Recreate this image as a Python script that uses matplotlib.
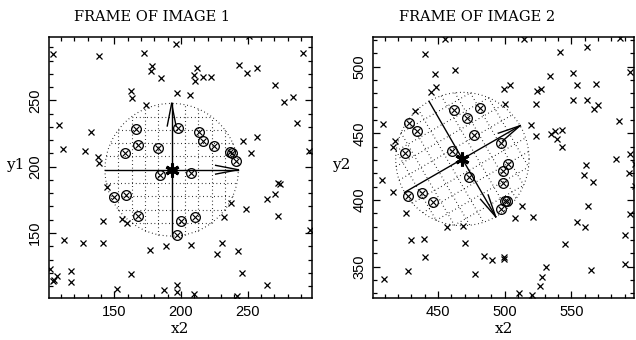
import numpy as np
import matplotlib
matplotlib.use("Agg")
import matplotlib.pyplot as plt

# frame 1: field stars (x) and matched stars (circled)
f1_x = [103.75, 138.75, 172.25, 196.5, 250.75, 291.25, 178.25, 177.75, 185.25, 212, 210, 210.75,
        216.25, 222.75, 243.75, 249.5, 257.25, 270.75, 277.25, 283.75, 162.75, 163.5, 196.75, 206.5,
        173.75, 108.75, 132.75, 287, 111.25, 128.25, 137.5, 138.25, 246.5, 257.25, 252.25, 295.75,
        144.5, 155.75, 159.75, 141.25, 237.25, 232, 248.75, 272.5, 274, 270.25, 264.25, 272.5,
        296.5, 112.25, 126.25, 141.5, 177, 188.75, 207.25, 230.75, 227, 242.75, 101.75, 107.25,
        104.5, 103.75, 117.25, 117.25, 162.25, 245.75, 264.5, 152, 187, 197, 197, 209.75, 242]
f1_y = [285.2, 283.4, 285.9, 292.5, 298.5, 285.9, 275.9, 272.4, 266.9, 274.4, 269.4, 264.9,
        267.4, 267.9, 276.4, 270.9, 274.6, 261.8, 248.8, 252.6, 257.3, 251.8, 255.8, 254.3,
        246.8, 231.7, 226.2, 232.7, 213.1, 211.9, 207.6, 202.6, 219.2, 222.2, 210.1, 211.6,
        184.8, 160.7, 157.5, 159.2, 173.0, 162.2, 167.8, 187.6, 187.3, 179.3, 175.8, 162.5,
        151.9, 144.9, 142.4, 142.4, 137.4, 139.9, 140.9, 142.4, 134.1, 136.6, 123.1, 117.3,
        114.8, 114.1, 121.1, 112.8, 119.1, 120.1, 111.0, 108.0, 106.8, 111.0, 105.5, 104.0, 102.3]
f1_match_x = [166.5, 197.5, 213.75, 216.25, 224.75, 237, 238.5, 241.25, 168, 182.75, 158.25,
              184.5, 207.75, 150, 158.75, 167.75, 200.25, 210.25, 197]
f1_match_y = [228.7, 229.2, 226.2, 219.7, 215.4, 211.1, 210.3, 204.6, 216.2, 214.2, 210.4,
              193.9, 195.6, 176.8, 178.8, 162.5, 159.2, 162.2, 148.7]

# frame 2
f2_x = [455.5, 514.5, 586.25, 440.5, 541.25, 561.5, 447.5, 462.5, 533.75, 551, 593.75, 445,
        448.75, 499.5, 504, 524.5, 527.5, 554.5, 568.75, 500, 523.75, 551.5, 561.5, 567, 570,
        432.5, 408.5, 520, 523.5, 534.5, 538, 543, 539.25, 543, 586, 417.5, 416.5, 583.25,
        593.75, 597.5, 561.25, 408, 416.5, 426.25, 456.5, 468.5, 513, 508, 521, 429.5, 439.25,
        470, 440, 484.5, 490.75, 499.25, 499.5, 427.5, 477.5, 409.5, 531.25, 528, 526.5, 510.5,
        520.5, 545, 554.5, 560.5, 562.5, 559.5, 566.25, 593.5, 597.5, 593.75, 590, 590, 565]
f2_y = [521, 521, 521.5, 509.5, 511, 514.5, 494.5, 497.25, 493, 495.5, 496, 481,
        484.5, 483.5, 486.5, 481.5, 483, 486.5, 486.75, 472, 472, 475.25, 474.75, 468.5, 471,
        466.5, 456.75, 456.5, 447.75, 449.5, 452, 452.5, 445.5, 440, 459, 444.5, 439.5, 430.75,
        434.5, 427, 426.5, 415, 405.75, 390.5, 379.75, 380.25, 395.25, 386.25, 387.5, 369.75, 370.75,
        367.5, 357.5, 358.25, 355, 357.5, 355.5, 346.75, 344.5, 340.5, 349.5, 342.25, 335.25, 330.5,
        328.75, 366.75, 383.25, 379.5, 395.25, 418.75, 413.25, 420, 410.75, 389.5, 373.75, 352.25, 347.5]
f2_match_x = [428, 434.5, 462, 471.5, 481.5, 477, 497.5, 460.5, 425, 502.5, 498.75, 498.75,
              473, 427.5, 438.25, 446, 500, 502, 497.5]
f2_match_y = [458, 451.5, 467.25, 461.75, 469.25, 448.5, 443, 436.75, 435.5, 427.25, 421.75, 412.5,
              417, 403.25, 405.25, 398.25, 399.5, 399.5, 393]

# reference frame: centre, radius, direction of the two arrows (deg)
f1_centre = (193.0, 197.7)
f2_centre = (468.25, 430.75)
radius = 50.0
f1_dirs = (0.0, 90.0)
f2_dirs = (30.0, -60.0)

titles = ["FRAME OF IMAGE 1", "FRAME OF IMAGE 2"]
xlims = [(101, 298), (401.5, 597)]
ylims = [(101, 298), (326.5, 522.5)]
xmajor = [[150, 200, 250], [450, 500, 550]]
ymajor = [[150, 200, 250], [350, 400, 450, 500]]
ylabels = ["y1", "y2"]

DOT = (0, (0.7, 2.6))


def unit(a):
    a = np.radians(a)
    return np.array([np.cos(a), np.sin(a)])


def draw_frame(ax, centre, dirs):
    c = np.array(centre)
    u, v = unit(dirs[0]), unit(dirs[1])
    t = np.linspace(0, 2 * np.pi, 200)
    ax.plot(c[0] + radius * np.cos(t), c[1] + radius * np.sin(t),
            color="k", lw=0.8, ls=DOT)
    for k in [-4, -3, -2, -1, 1, 2, 3, 4]:
        off = k * radius / 5
        half = np.sqrt(radius ** 2 - off ** 2)
        for a, b in [(u, v), (v, u)]:
            p0 = c + off * b - half * a
            p1 = c + off * b + half * a
            ax.plot([p0[0], p1[0]], [p0[1], p1[1]], color="k", lw=0.8, ls=DOT)
    # arrows with open heads
    L, w = 17.0, 3.3
    for a in (u, v):
        n = np.array([-a[1], a[0]])
        tail = c - radius * a
        tip = c + radius * a
        ax.plot([tail[0], tip[0]], [tail[1], tip[1]], color="k", lw=1.0)
        for s in (1, -1):
            wing = tip - L * a + s * w * n
            ax.plot([wing[0], tip[0]], [wing[1], tip[1]], color="k", lw=1.0)
    ax.plot(c[0], c[1], marker=(6, 2, 0), ms=10, mew=2.2, color="k")


fig = plt.figure(figsize=(6.36, 3.4), dpi=100)
axes = [fig.add_axes([0.077, 0.1235, 0.413, 0.7686]),
        fig.add_axes([0.587, 0.1235, 0.41, 0.7686])]
data = [(f1_x, f1_y, f1_match_x, f1_match_y, f1_centre, f1_dirs),
        (f2_x, f2_y, f2_match_x, f2_match_y, f2_centre, f2_dirs)]

for i, ax in enumerate(axes):
    sx, sy, mx, my, centre, dirs = data[i]
    draw_frame(ax, centre, dirs)
    ax.plot(sx, sy, "x", color="k", ms=5, mew=0.9, ls="none")
    ax.plot(mx, my, "o", mfc="none", mec="k", ms=7, mew=0.9, ls="none")
    ax.plot(mx, my, "x", color="k", ms=3.8, mew=0.8, ls="none")
    ax.set_xlim(xlims[i])
    ax.set_ylim(ylims[i])
    ax.set_xticks(xmajor[i])
    ax.set_yticks(ymajor[i])
    ax.set_xticks(np.arange(np.ceil(xlims[i][0] / 10) * 10, xlims[i][1], 10), minor=True)
    ax.set_yticks(np.arange(np.ceil(ylims[i][0] / 10) * 10, ylims[i][1], 10), minor=True)
    ax.set_xticklabels([str(v) for v in xmajor[i]], family="Liberation Sans", fontsize=10.5)
    ax.set_yticklabels([str(v) for v in ymajor[i]], family="Liberation Sans", fontsize=10.5,
                       rotation=90, va="center")
    ax.tick_params(which="both", direction="in", top=True, right=True, width=0.9)
    ax.tick_params(which="major", length=5, pad=5)
    ax.tick_params(which="minor", length=2.6)
    for sp in ax.spines.values():
        sp.set_linewidth(1.1)
    ax.set_xlabel("x2", family="DejaVu Serif", fontsize=11, labelpad=2)
    ax.set_ylabel(ylabels[i], family="DejaVu Serif", fontsize=11, rotation=0, va="center")
    ax.yaxis.set_label_coords(-0.13 if i == 0 else -0.124, 0.51)

fig.text(152 / 636, 1 - 17 / 340, titles[0], family="DejaVu Serif", fontsize=10.5,
         ha="center", va="center")
fig.text(477 / 636, 1 - 17 / 340, titles[1], family="DejaVu Serif", fontsize=10.5,
         ha="center", va="center")

fig.savefig("out.png", dpi=100)
